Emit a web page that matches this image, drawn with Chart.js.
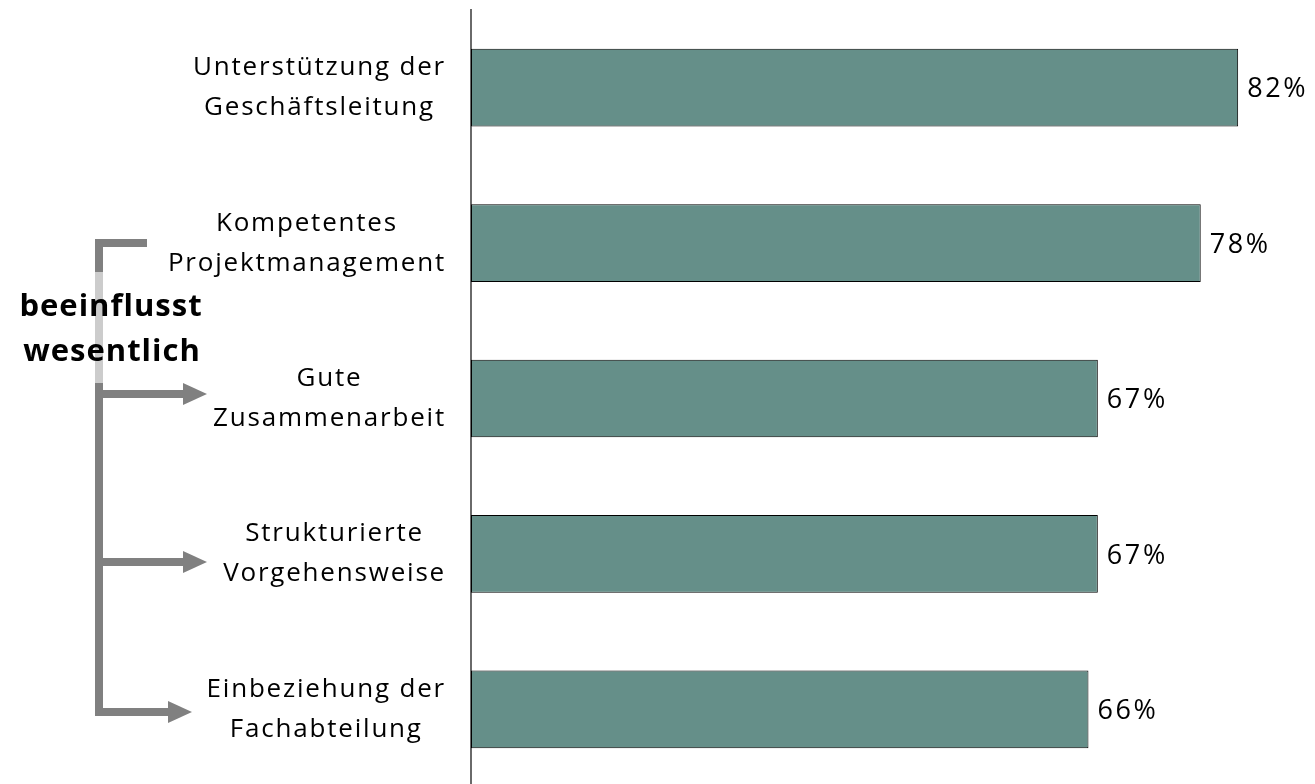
<!DOCTYPE html>
<html lang="de">
<head>
<meta charset="utf-8">
<title>Erfolgsfaktoren</title>
<script src="https://cdn.jsdelivr.net/npm/chart.js@4/dist/chart.umd.min.js"></script>
<style>
  html, body { margin: 0; padding: 0; background: #fff; overflow: hidden; }
  .wrap { width: 1315px; height: 787px; position: relative; }
</style>
</head>
<body>
<div class="wrap"><canvas id="chart"></canvas></div>
<script>
/* ================= DATA ================= */
const categories = [
  ["Unterstützung der", "Geschäftsleitung"],
  ["Kompetentes", "Projektmanagement"],
  ["Gute", "Zusammenarbeit"],
  ["Strukturierte", "Vorgehensweise"],
  ["Einbeziehung der", "Fachabteilung"]
];
const values = [82, 78, 67, 67, 66];
const annotationText = ["beeinflusst", "wesentlich"];

const FONT = '"Open Sans", "Noto Sans", sans-serif';
const BAR_COLOR = "#658f89";

/* ================= CATEGORY LABELS ================= */
// two-line labels, each line centred inside its block, block right-aligned
const categoryLabels = {
  id: "categoryLabels",
  afterDraw(chart) {
    const ctx = chart.ctx;
    const meta = chart.getDatasetMeta(0);
    ctx.save();
    ctx.font = "26px " + FONT;
    ctx.letterSpacing = "1.8px";
    ctx.fillStyle = "#000";
    ctx.textAlign = "center";
    ctx.textBaseline = "middle";
    meta.data.forEach((bar, i) => {
      const lines = categories[i];
      const w = Math.max(...lines.map(l => ctx.measureText(l).width));
      const cx = 446 - w / 2;
      lines.forEach((l, j) => {
        ctx.fillText(l, cx, bar.y + (j - (lines.length - 1) / 2) * 40);
      });
    });
    ctx.restore();
  }
};

/* ================= VALUE LABELS ================= */
const valueLabels = {
  id: "valueLabels",
  afterDatasetsDraw(chart) {
    const ctx = chart.ctx;
    const meta = chart.getDatasetMeta(0);
    ctx.save();
    ctx.font = "27px " + FONT;
    ctx.letterSpacing = "2.6px";
    ctx.fillStyle = "#000";
    ctx.textAlign = "left";
    ctx.textBaseline = "middle";
    meta.data.forEach((bar, i) => {
      ctx.fillText(values[i] + "%", bar.x + 9, bar.y + 2);
    });
    ctx.restore();
  }
};

/* ================= BRACKET ANNOTATION ================= */
function arrow(ctx, x0, x1, y) {
  ctx.beginPath();
  ctx.moveTo(x0, y);
  ctx.lineTo(x1 - 22, y);
  ctx.stroke();
  ctx.beginPath();
  ctx.moveTo(x1, y);
  ctx.lineTo(x1 - 24, y - 11);
  ctx.lineTo(x1 - 24, y + 11);
  ctx.closePath();
  ctx.fill();
}

const bracket = {
  id: "bracket",
  afterDraw(chart) {
    const ctx = chart.ctx;
    ctx.save();
    ctx.strokeStyle = "#808080";
    ctx.fillStyle = "#808080";
    ctx.lineWidth = 8;
    ctx.lineCap = "butt";
    // vertical spine + top stub
    ctx.beginPath();
    ctx.moveTo(147, 243);
    ctx.lineTo(99, 243);
    ctx.lineTo(99, 716);
    ctx.stroke();
    arrow(ctx, 95, 207, 394);
    arrow(ctx, 95, 207, 562);
    arrow(ctx, 95, 192, 712);

    // translucent box behind the text
    ctx.fillStyle = "rgba(255,255,255,0.6)";
    ctx.fillRect(0, 272, 206, 111);

    ctx.font = "bold 31px " + FONT;
    ctx.letterSpacing = "1px";
    ctx.fillStyle = "#000";
    ctx.textAlign = "center";
    ctx.textBaseline = "middle";
    ctx.fillText(annotationText[0], 111, 307);
    ctx.fillText(annotationText[1], 112, 352);
    ctx.restore();
  }
};

/* ================= CHART ================= */
new Chart(document.getElementById("chart").getContext("2d"), {
  type: "bar",
  data: {
    labels: categories,
    datasets: [{
      data: values,
      backgroundColor: BAR_COLOR,
      borderColor: "#000",
      borderWidth: 1,
      borderSkipped: false,
      barPercentage: 0.5,
      categoryPercentage: 1
    }]
  },
  options: {
    indexAxis: "y",
    responsive: true,
    maintainAspectRatio: false,
    animation: false,
    layout: { padding: { left: 463, right: 2, top: 10, bottom: 0 } },
    plugins: {
      legend: { display: false },
      tooltip: { enabled: false }
    },
    scales: {
      x: { display: false, min: 0, max: 90 },
      y: {
        grid: { display: false },
        ticks: { display: false },
        border: { display: true, color: "#6a6a6a", width: 2 }
      }
    }
  },
  plugins: [categoryLabels, valueLabels, bracket]
});
</script>
</body>
</html>
